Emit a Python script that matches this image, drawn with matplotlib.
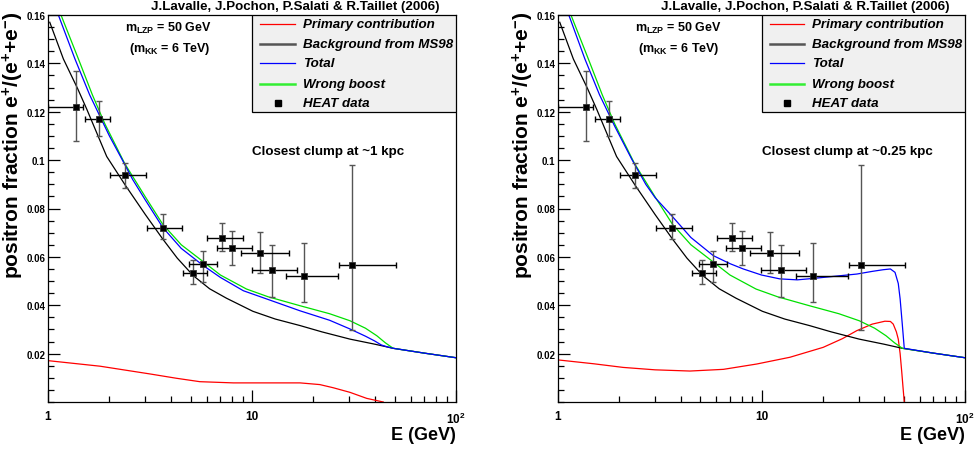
import numpy as np
import matplotlib
matplotlib.use("Agg")
import matplotlib.pyplot as plt
from matplotlib.ticker import MultipleLocator, FixedLocator, FixedFormatter, NullFormatter
from matplotlib.patches import Rectangle
from matplotlib.lines import Line2D

plt.rcParams["font.family"] = ["Liberation Sans", "DejaVu Sans"]
plt.rcParams["font.weight"] = "bold"
plt.rcParams["mathtext.fontset"] = "custom"
plt.rcParams["mathtext.rm"] = "Liberation Sans:bold"
plt.rcParams["mathtext.bf"] = "Liberation Sans:bold"
plt.rcParams["mathtext.it"] = "Liberation Sans:bold:italic"
plt.rcParams["mathtext.default"] = "bf"

# -----------------------------
# HEAT positron fraction data
# -----------------------------
heat_E = [1.37, 1.78, 2.39, 3.65, 5.12, 5.77, 7.15, 8.01, 10.98, 12.5, 18.0, 30.8]
heat_Elo = [1.00, 1.52, 2.01, 3.04, 4.57, 4.93, 6.04, 6.71, 8.80, 9.97, 14.7, 26.8]
heat_Ehi = [1.48, 2.01, 3.02, 4.54, 6.00, 6.76, 9.00, 9.97, 15.2, 16.6, 26.5, 50.8]
heat_f = [0.122, 0.1169, 0.0938, 0.0719, 0.0535, 0.0569, 0.0679, 0.0638, 0.0616, 0.0547, 0.052, 0.0566]
heat_flo = [0.108, 0.110, 0.0886, 0.0674, 0.0488, 0.0498, 0.0626, 0.0566, 0.0532, 0.0433, 0.0412, 0.0298]
heat_fhi = [0.137, 0.1246, 0.0988, 0.0776, 0.0586, 0.0626, 0.074, 0.0708, 0.0704, 0.0649, 0.0657, 0.0981]

# -----------------------------
# Background from MS98 (same in both panels)
# -----------------------------
bkg_E = [1.02, 1.19, 1.4, 1.55, 1.8, 1.94, 2.39, 3.0, 3.65, 4.3, 5.16, 6.2, 7.5, 10.1,
         13, 17.2, 22, 30.2, 40, 49.2, 70, 100]
bkg_f = [0.157, 0.1418, 0.1294, 0.121, 0.108, 0.1015, 0.0897, 0.0775, 0.0674, 0.0595,
         0.0522, 0.0468, 0.0429, 0.0375, 0.0343, 0.0316, 0.0290, 0.026, 0.0239, 0.0222,
         0.0202, 0.0183]

# Wrong boost (same in both panels)
wrong_E = [1.158, 1.41, 1.65, 1.9, 2.38, 3.0, 3.65, 4.5, 5.77, 7.0, 9.4, 12, 17.2, 24,
           30.2, 36, 40.9, 45, 49.2, 70, 100]
wrong_f = [0.16, 0.1418, 0.127, 0.115, 0.0985, 0.0848, 0.0735, 0.065, 0.058, 0.0525,
           0.0467, 0.0435, 0.0398, 0.0365, 0.0336, 0.0305, 0.0274, 0.0245, 0.0222,
           0.0202, 0.0183]

# Closest clump at ~1 kpc
prim1_E = [1, 1.8, 3.16, 4.27, 5.55, 8.1, 17.2, 21.5, 25, 30.2, 36.5, 44]
prim1_f = [0.0171, 0.0148, 0.0116, 0.0098, 0.0084, 0.0079, 0.0079, 0.0072, 0.0059,
           0.004, 0.0015, 0.0]
tot1_E = [1.124, 1.356, 1.6, 1.8, 2.0, 2.3, 2.6, 3.0, 3.65, 4.5, 5.77, 7.0, 9.07, 11.8,
          17.2, 24, 30.2, 36, 40, 43, 46, 49.2, 70, 100]
tot1_f = [0.16, 0.1418, 0.127, 0.118, 0.110, 0.1005, 0.092, 0.0835, 0.0722, 0.0635,
          0.0564, 0.0515, 0.046, 0.0426, 0.0377, 0.0338, 0.0302, 0.0272, 0.0252, 0.0236,
          0.0228, 0.0222, 0.0202, 0.0183]

# Closest clump at ~0.25 kpc
prim2_E = [1, 1.5, 2.09, 3, 4.45, 6.5, 9.47, 13.8, 20.1, 25, 29.4, 35, 40.4, 43, 44.4,
           46, 47, 48, 48.9, 49.6, 50.3]
prim2_f = [0.0174, 0.0158, 0.0143, 0.0133, 0.0128, 0.0135, 0.0157, 0.0185, 0.0226,
           0.0262, 0.0295, 0.0322, 0.0334, 0.0333, 0.0322, 0.029, 0.026, 0.020, 0.0123,
           0.006, 0.0]
tot2_E = [1.13, 1.356, 1.6, 1.9, 2.3, 2.7, 3.0, 3.62, 4.5, 5.8, 7.0, 8.14, 10, 12.3, 15,
          18.0, 23, 29.4, 35, 39.7, 43, 45.3, 47, 48.0, 49.2, 50.3, 70, 100]
tot2_f = [0.16, 0.1418, 0.127, 0.114, 0.1005, 0.090, 0.0845, 0.0770, 0.0680, 0.0605,
          0.0572, 0.055, 0.0525, 0.0509, 0.0505, 0.0511, 0.052, 0.0529, 0.054, 0.0547,
          0.0550, 0.0536, 0.049, 0.0426, 0.032, 0.0222, 0.0202, 0.0183]

panels = [
    (prim1_E, prim1_f, tot1_E, tot1_f, "Closest clump at ~1 kpc"),
    (prim2_E, prim2_f, tot2_E, tot2_f, "Closest clump at ~0.25 kpc"),
]

fig = plt.figure(figsize=(9.74, 4.52), dpi=100)
W, H = 974, 452
boxes = [(48, 456), (558, 965)]
top_px, bot_px = 16, 403
txt = 9.6

for (x0, x1), (pE, pf, tE, tf, clump) in zip(boxes, panels):
    ax = fig.add_axes([x0 / W, 1 - bot_px / H, (x1 - x0) / W, (bot_px - top_px) / H])
    ax.set_xscale("log")
    ax.set_xlim(1, 100)
    ax.set_ylim(0, 0.16)

    lw = 0.9
    ax.plot(pE, pf, color="red", lw=lw)
    ax.plot(bkg_E, bkg_f, color="black", lw=lw)
    ax.plot(wrong_E, wrong_f, color="#00e000", lw=lw)
    ax.plot(tE, tf, color="blue", lw=lw)

    # error bars: vertical in grey, horizontal in black
    E = np.array(heat_E)
    f = np.array(heat_f)
    ax.errorbar(E, f, yerr=[f - np.array(heat_flo), np.array(heat_fhi) - f], fmt="none",
                ecolor="#555555", elinewidth=1.0, capsize=2.5, capthick=1.0)
    ax.errorbar(E, f, xerr=[E - np.array(heat_Elo), np.array(heat_Ehi) - E], fmt="none",
                ecolor="black", elinewidth=1.0, capsize=2.5, capthick=1.0)
    ax.plot(E, f, "s", color="black", ms=4.8, mec="#333333", mew=0.6, zorder=5)

    # axes styling
    for s in ax.spines.values():
        s.set_linewidth(0.9)
    ax.yaxis.set_major_locator(FixedLocator([0.02, 0.04, 0.06, 0.08, 0.10, 0.12, 0.14, 0.16]))
    ax.yaxis.set_major_formatter(FixedFormatter(["0.02", "0.04", "0.06", "0.08", "0.1",
                                                 "0.12", "0.14", "0.16"]))
    ax.yaxis.set_minor_locator(MultipleLocator(0.005))
    ax.xaxis.set_major_locator(FixedLocator([1, 10, 100]))
    ax.xaxis.set_major_formatter(FixedFormatter(["1", "10", r"$10^{2}$"]))
    ax.xaxis.set_minor_locator(FixedLocator([2, 3, 4, 5, 6, 7, 8, 9,
                                             20, 30, 40, 50, 60, 70, 80, 90]))
    ax.xaxis.set_minor_formatter(NullFormatter())
    ax.tick_params(which="both", direction="in", top=False, right=False, width=0.9)
    ax.tick_params(which="major", length=8.5)
    ax.tick_params(which="minor", length=4.3)
    ax.tick_params(axis="y", labelsize=7, pad=2)
    ax.tick_params(axis="x", labelsize=8.5, pad=6)

    # title and axis titles
    ax.text(0.607, 1.023, "J.Lavalle, J.Pochon, P.Salati & R.Taillet (2006)",
            transform=ax.transAxes, ha="center", va="center", fontsize=txt, fontweight="bold")
    ax.text(-0.086, 1.01, r"positron fraction e$^{+}$/(e$^{+}$+e$^{-}$)",
            transform=ax.transAxes, rotation=90, ha="center", va="top",
            fontsize=15, fontweight="bold")
    ax.text(1.0, -0.083, "E (GeV)", transform=ax.transAxes, ha="right", va="center",
            fontsize=13, fontweight="bold")

    ax.text(0.295, 0.969, r"m$_{LZP}$ = 50 GeV", transform=ax.transAxes,
            ha="center", va="center", fontsize=9, fontweight="bold")
    ax.text(0.298, 0.915, r"(m$_{KK}$ = 6 TeV)", transform=ax.transAxes,
            ha="center", va="center", fontsize=9, fontweight="bold")
    ax.text(0.5, 0.649, clump, transform=ax.transAxes, ha="left", va="center",
            fontsize=txt, fontweight="bold")

    # legend box
    lx0, ly0 = 0.5, 0.749
    ax.add_patch(Rectangle((lx0, ly0), 1 - lx0, 1 - ly0, transform=ax.transAxes,
                           facecolor="#f0f0f0", edgecolor="black", lw=0.9, zorder=6))
    rows = [
        ("Primary contribution", "red", 0.9),
        ("Background from MS98", "#555555", 1.8),
        ("Total", "blue", 0.9),
        ("Wrong boost", "#33ee33", 1.8),
    ]
    row_y = [0.977, 0.925, 0.876, 0.822, 0.773]
    for (label, col, w), yy in zip(rows, row_y):
        ax.add_line(Line2D([0.52, 0.605], [yy, yy], transform=ax.transAxes,
                           color=col, lw=w, zorder=7))
        ax.text(0.625, yy, label, transform=ax.transAxes, ha="left", va="center",
                fontsize=txt, fontweight="bold", style="italic", zorder=7)
    ax.plot([0.563], [row_y[4]], "s", color="black", ms=4.8, transform=ax.transAxes,
            zorder=7, clip_on=False)
    ax.text(0.625, row_y[4], "HEAT data", transform=ax.transAxes, ha="left", va="center",
            fontsize=txt, fontweight="bold", style="italic", zorder=7)

fig.savefig("out.png", dpi=100)
